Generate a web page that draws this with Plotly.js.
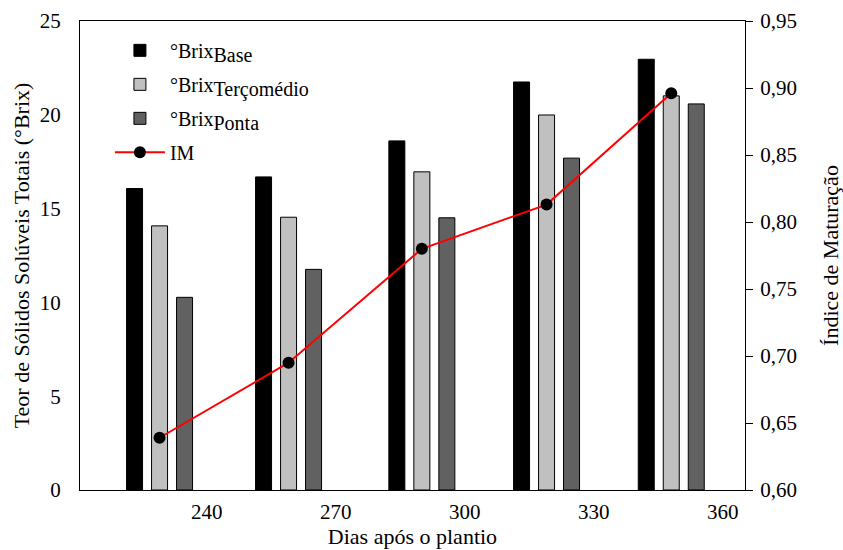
<!DOCTYPE html>
<html>
<head>
<meta charset="utf-8">
<script src="https://cdn.plot.ly/plotly-3.0.1.min.js"></script>
<style>html,body{margin:0;padding:0;background:#fff;}#chart{width:843px;height:550px;}</style>
</head>
<body>
<div id="chart"></div>
<script>
const days = [229, 259, 290, 319, 348];
const brixBase = [16.07, 16.69, 18.61, 21.75, 22.96];
const brixTercomedio = [14.08, 14.54, 16.96, 19.99, 21.01];
const brixPonta = [10.27, 11.76, 14.51, 17.69, 20.58];
const indiceMaturacao = [0.639, 0.695, 0.780, 0.813, 0.896];
const xTicks = [240, 270, 300, 330, 360];
const yLeftTicks = [0, 5, 10, 15, 20, 25];
const yRightTicks = [0.60, 0.65, 0.70, 0.75, 0.80, 0.85, 0.90, 0.95];
const yRightTickText = ['0,60', '0,65', '0,70', '0,75', '0,80', '0,85', '0,90', '0,95'];

const FONT = 'Liberation Serif, Times New Roman, serif';
const tickFont = {family: FONT, size: 21, color: '#000'};
const titleFont = {family: FONT, size: 22, color: '#000'};
const sub = s => '°Brix<sub><span style="font-size:20px">' + s + '</span></sub>';

const traces = [
  {type: 'bar', x: days, y: brixBase, name: sub('Base'), legendgroup: 'a',
   marker: {color: '#000000', line: {color: '#000000', width: 1}}},
  {type: 'bar', x: days, y: brixTercomedio, name: sub('Terçomédio'), legendgroup: 'b',
   marker: {color: '#c0c0c0', line: {color: '#000000', width: 1}}},
  {type: 'bar', x: days, y: brixPonta, name: sub('Ponta'), legendgroup: 'c',
   marker: {color: '#616161', line: {color: '#000000', width: 1}}},
  {type: 'scatter', mode: 'lines+markers', x: days, y: indiceMaturacao, yaxis: 'y2', name: 'IM', legendgroup: 'd',
   line: {color: '#ff0000', width: 2}, marker: {color: '#000000', size: 12}}
];

const layout = {
  width: 843, height: 550,
  margin: {l: 80, r: 98, t: 21, b: 60, pad: 0},
  paper_bgcolor: '#ffffff', plot_bgcolor: '#ffffff',
  font: {family: FONT, size: 21, color: '#000'},
  barmode: 'group', bargap: 0.3986, bargroupgap: 0.36,
  showlegend: true,
  legend: {x: 0.045, y: 0.979, xanchor: 'left', yanchor: 'top', bgcolor: 'rgba(0,0,0,0)',
           font: {family: FONT, size: 20, color: '#000'}, traceorder: 'grouped', tracegroupgap: 5, itemwidth: 50},
  xaxis: {range: [210.5, 365.15], tickvals: xTicks, ticks: '', showgrid: false, zeroline: false,
          showline: true, linecolor: '#000', linewidth: 1, mirror: true, ticklabelstandoff: 3, tickfont: tickFont,
          title: {text: 'Dias após o plantio', font: titleFont, standoff: 4}},
  yaxis: {range: [0, 25], tickvals: yLeftTicks, ticks: '', showgrid: false, zeroline: false,
          showline: true, linecolor: '#000', linewidth: 1, ticklabelstandoff: 14, tickfont: tickFont,
          title: {text: 'Teor de Sólidos Solúveis Totais (°Brix)', font: titleFont, standoff: 4}},
  yaxis2: {overlaying: 'y', side: 'right', range: [0.6, 0.95], tickvals: yRightTicks, ticktext: yRightTickText,
           ticks: 'outside', ticklen: 7, tickcolor: '#000', showgrid: false, zeroline: false,
           showline: true, linecolor: '#000', linewidth: 1, ticklabelstandoff: 3, tickfont: tickFont,
           title: {text: 'Índice de Maturação', font: titleFont, standoff: 26}}
};

Plotly.newPlot('chart', traces, layout, {displayModeBar: false, staticPlot: true});
</script>
</body>
</html>
